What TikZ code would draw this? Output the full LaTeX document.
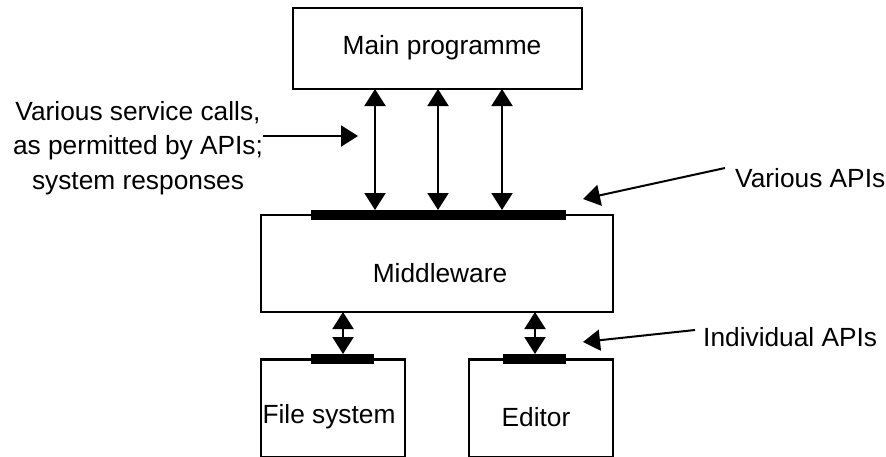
\documentclass[tikz,border=0pt]{standalone}
\usepackage{fontspec}
\setmainfont{Liberation Sans}
\usetikzlibrary{arrows.meta}
\begin{document}
\begin{tikzpicture}[x=1pt,y=-1pt,
  box/.style={draw,line width=2.5pt,inner sep=0pt,outer sep=0pt},
  lbl/.style={inner sep=0pt,font=\fontsize{26.3}{34.5}\selectfont,align=center},
  apibar/.style={fill=black,inner sep=0pt,outer sep=0pt,minimum height=10pt},
  link/.style={line width=2pt,{Triangle[length=17pt,width=21pt]}-{Triangle[length=17pt,width=21pt]}},
  pointer/.style={line width=2pt,-{Triangle[length=17pt,width=21pt]}}]
\useasboundingbox (0,0) rectangle (886,456);

% boxes
\node[box,minimum width=289pt,minimum height=81pt] (main) at (437.5,48.5) {};
\node[lbl] (mainlbl) at (442,48) {Main programme};
\node[box,minimum width=352pt,minimum height=97pt] (mw) at (437,263.5) {};
\node[lbl] (mwlbl) at (440,273) {Middleware};
\node[box,minimum width=144pt,minimum height=98pt] (fs) at (333,408.5) {};
\node[lbl] (fslbl) at (329,417) {File system};
\node[box,minimum width=144pt,minimum height=98pt] (ed) at (541,408.5) {};
\node[lbl] (edlbl) at (536,417) {Editor};

% API bars
\node[apibar,minimum width=255pt] (api) at (438.5,215) {};
\node[apibar,minimum width=63pt] (fsbar) at (342.5,359) {};
\node[apibar,minimum width=63pt] (edbar) at (534.5,359) {};

% service call links
\coordinate (c1) at (375,0);
\coordinate (c2) at (438,0);
\coordinate (c3) at (502,0);
\foreach \c in {c1,c2,c3}
  \draw[link] (main.south -| \c) -- (api.north -| \c);
\coordinate (cf) at (343,0);
\coordinate (ce) at (535,0);
\draw[link] (mw.south -| cf) -- (fsbar.north -| cf);
\draw[link] (mw.south -| ce) -- (edbar.north -| ce);

% annotations
\node[lbl] (calls) at (138,148) {Various service calls,\\as permitted by APIs;\\system responses};
\coordinate (tipC) at (358,136);
\draw[pointer] (calls.east |- tipC) -- (tipC);

\node[lbl,anchor=west] (vapi) at (735,178) {Various APIs};
\coordinate (tipV) at (583,199);
\draw[pointer] ([xshift=-10pt,yshift=10pt]vapi.west) -- (tipV);

\node[lbl,anchor=west] (iapi) at (703,337) {Individual APIs};
\coordinate (tipI) at (583,342);
\draw[pointer] ([xshift=-8pt,yshift=7pt]iapi.west) -- (tipI);
\end{tikzpicture}
\end{document}
